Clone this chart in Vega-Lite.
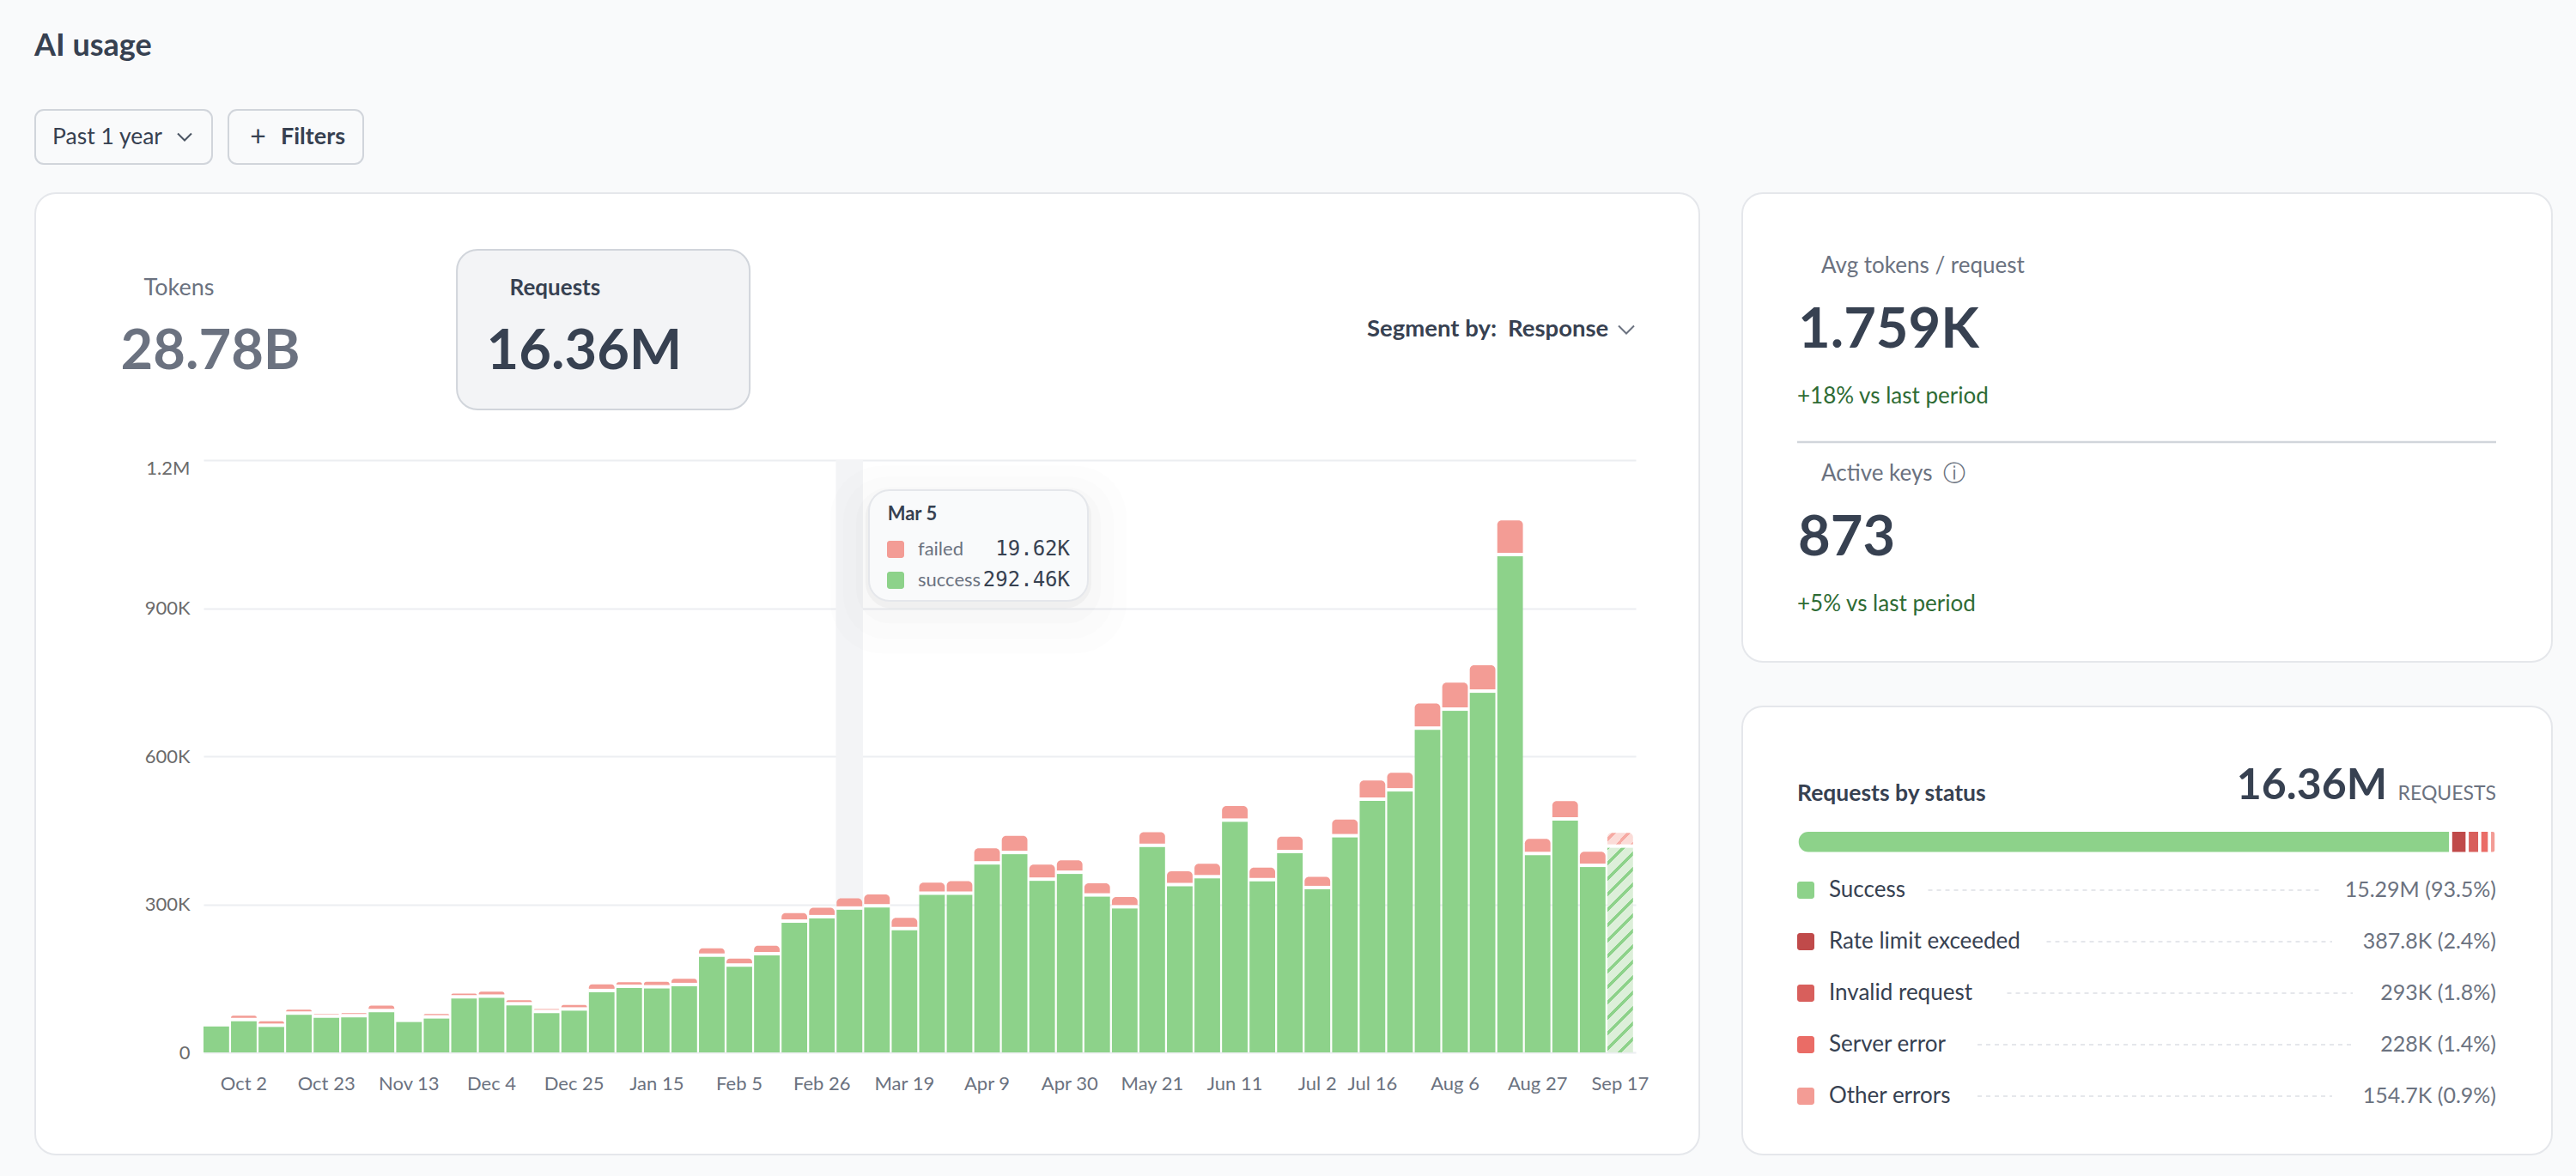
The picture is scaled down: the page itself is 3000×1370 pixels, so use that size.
{
  "$schema": "https://vega.github.io/schema/vega-lite/v6.json",
  "background": "#f9fafb",
  "padding": {"left": 40, "right": 35, "top": 36, "bottom": 35},
  "title": {"text": "AI usage", "anchor": "start", "font": "Lato", "fontSize": 36, "fontWeight": 700, "color": "#374151", "offset": 54},
  "config": {"font": "Lato", "view": {"stroke": null}},
  "datasets": {
    "weeks": [
      {"week": "Sep 25", "success": 56000, "failed": 1000},
      {"week": "Oct 2", "success": 66600, "failed": 7800},
      {"week": "Oct 9", "success": 55000, "failed": 8000},
      {"week": "Oct 16", "success": 79600, "failed": 7000},
      {"week": "Oct 23", "success": 73500, "failed": 4500},
      {"week": "Oct 30", "success": 74400, "failed": 5200},
      {"week": "Nov 6", "success": 84800, "failed": 10000},
      {"week": "Nov 13", "success": 65000, "failed": 1000},
      {"week": "Nov 20", "success": 72000, "failed": 6000},
      {"week": "Nov 27", "success": 112500, "failed": 6500},
      {"week": "Dec 4", "success": 114000, "failed": 9000},
      {"week": "Dec 11", "success": 98600, "failed": 7000},
      {"week": "Dec 18", "success": 83000, "failed": 5000},
      {"week": "Dec 25", "success": 88000, "failed": 8000},
      {"week": "Jan 1", "success": 125400, "failed": 12600},
      {"week": "Jan 8", "success": 134000, "failed": 8000},
      {"week": "Jan 15", "success": 133000, "failed": 10000},
      {"week": "Jan 22", "success": 137500, "failed": 11500},
      {"week": "Jan 29", "success": 197000, "failed": 14000},
      {"week": "Feb 5", "success": 177000, "failed": 13000},
      {"week": "Feb 12", "success": 200000, "failed": 16000},
      {"week": "Feb 19", "success": 266000, "failed": 16000},
      {"week": "Feb 26", "success": 275000, "failed": 18000},
      {"week": "Mar 5", "success": 292460, "failed": 19620},
      {"week": "Mar 12", "success": 297000, "failed": 23000},
      {"week": "Mar 19", "success": 251000, "failed": 21500},
      {"week": "Mar 26", "success": 322600, "failed": 21400},
      {"week": "Apr 2", "success": 322600, "failed": 24400},
      {"week": "Apr 9", "success": 384000, "failed": 29500},
      {"week": "Apr 16", "success": 405000, "failed": 33600},
      {"week": "Apr 23", "success": 351000, "failed": 29600},
      {"week": "Apr 30", "success": 365000, "failed": 24300},
      {"week": "May 7", "success": 319000, "failed": 23500},
      {"week": "May 14", "success": 295000, "failed": 20000},
      {"week": "May 21", "success": 419500, "failed": 26500},
      {"week": "May 28", "success": 340000, "failed": 27000},
      {"week": "Jun 4", "success": 356000, "failed": 26300},
      {"week": "Jun 11", "success": 470600, "failed": 28400},
      {"week": "Jun 18", "success": 350000, "failed": 24500},
      {"week": "Jun 25", "success": 407000, "failed": 30000},
      {"week": "Jul 2", "success": 334000, "failed": 21500},
      {"week": "Jul 9", "success": 439000, "failed": 32600},
      {"week": "Jul 16", "success": 513000, "failed": 38000},
      {"week": "Jul 23", "success": 532000, "failed": 34600},
      {"week": "Jul 30", "success": 657000, "failed": 50000},
      {"week": "Aug 6", "success": 695500, "failed": 53500},
      {"week": "Aug 13", "success": 732000, "failed": 52500},
      {"week": "Aug 20", "success": 1008600, "failed": 69400},
      {"week": "Aug 27", "success": 403000, "failed": 29500},
      {"week": "Sep 3", "success": 473000, "failed": 36000},
      {"week": "Sep 10", "success": 379000, "failed": 27500},
      {"week": "Sep 17", "success": 418000, "failed": 27000}
    ],
    "kpis": [
      {"metric": "Tokens", "figure": "28.78B", "selected": false},
      {"metric": "Requests", "figure": "16.36M", "selected": true}
    ],
    "tooltip": [
      {"day": "Mar 5", "status": "failed", "requests": "19.62K"},
      {"day": "Mar 5", "status": "success", "requests": "292.46K"}
    ],
    "stats": [
      {"metric": "Avg tokens / request", "figure": "1.759K", "change": "+18% vs last period"},
      {"metric": "Active keys", "figure": "873", "change": "+5% vs last period"}
    ],
    "statuses": [
      {"rank": 1, "status": "Success", "requests": 15290000, "amount": "15.29M (93.5%)"},
      {"rank": 2, "status": "Rate limit exceeded", "requests": 387800, "amount": "387.8K (2.4%)"},
      {"rank": 3, "status": "Invalid request", "requests": 293000, "amount": "293K (1.8%)"},
      {"rank": 4, "status": "Server error", "requests": 228000, "amount": "228K (1.4%)"},
      {"rank": 5, "status": "Other errors", "requests": 154700, "amount": "154.7K (0.9%)"}
    ]
  },
  "spacing": 32,
  "resolve": {"scale": {"color": "independent"}},
  "vconcat": [
    {
      "spacing": 17,
      "hconcat": [
        {
          "width": 206,
          "height": 63,
          "view": {"fill": "#f9fafb", "stroke": "#d1d5db", "strokeWidth": 2, "cornerRadius": 10},
          "data": {"values": [{"label": "Past 1 year"}]},
          "layer": [
            {
              "mark": {"type": "text", "fontSize": 26.5, "color": "#374151", "dx": -19},
              "encoding": {"text": {"field": "label"}}
            },
            {
              "mark": {"type": "point", "shape": "M-1,-0.5L0,0.5L1,-0.5", "size": 256, "color": "#4b5563", "strokeWidth": 2, "filled": false, "xOffset": 71, "opacity": 1}
            }
          ]
        },
        {
          "width": 157,
          "height": 63,
          "view": {"fill": "#f9fafb", "stroke": "#d1d5db", "strokeWidth": 2, "cornerRadius": 10},
          "data": {"values": [{"label": "Filters"}]},
          "layer": [
            {"mark": {"type": "text", "text": "+", "fontSize": 32, "color": "#374151", "dx": -44}},
            {
              "mark": {"type": "text", "fontSize": 27, "fontWeight": 700, "color": "#374151", "dx": 20},
              "encoding": {"text": {"field": "label"}}
            }
          ]
        }
      ]
    },
    {
      "spacing": 48,
      "resolve": {"scale": {"color": "independent"}},
      "hconcat": [
        {
          "width": 1938,
          "height": 1120,
          "view": {"fill": "#ffffff", "stroke": "#e5e7eb", "strokeWidth": 2, "cornerRadius": 24},
          "resolve": {"scale": {"x": "independent", "y": "independent"}},
          "layer": [
            {
              "data": {"name": "kpis"},
              "encoding": {
                "x": {"field": "metric", "type": "nominal", "axis": null, "scale": {"type": "point", "domain": ["Tokens", "Requests"], "range": [99.6, 525.6], "padding": 0}},
                "y": {"field": "metric", "type": "nominal", "axis": null, "scale": {"type": "point", "domain": ["Tokens", "Requests"], "range": [159, 159], "padding": 0}}
              },
              "layer": [
                {
                  "transform": [{"filter": "datum.selected"}],
                  "mark": {"type": "rect", "width": 341, "height": 186, "cornerRadius": 24, "fill": "#f3f4f6", "stroke": "#d1d5db", "strokeWidth": 2, "xOffset": 136}
                },
                {
                  "transform": [{"filter": "!datum.selected"}],
                  "mark": {"type": "text", "align": "left", "baseline": "middle", "dx": 27, "dy": -48, "fontSize": 27, "color": "#6b7280"},
                  "encoding": {"text": {"field": "metric"}}
                },
                {
                  "transform": [{"filter": "datum.selected"}],
                  "mark": {"type": "text", "align": "left", "baseline": "middle", "dx": 27, "dy": -48, "fontSize": 26, "fontWeight": 700, "color": "#374151"},
                  "encoding": {"text": {"field": "metric"}}
                },
                {
                  "mark": {"type": "text", "align": "left", "baseline": "middle", "dy": 26, "fontSize": 65, "fontWeight": 700},
                  "encoding": {
                    "text": {"field": "figure"},
                    "color": {"condition": {"test": "datum.selected", "value": "#374151"}, "value": "#6b7280"}
                  }
                }
              ]
            },
            {
              "data": {"values": [{"segment": "Response"}]},
              "encoding": {
                "x": {"field": "segment", "type": "nominal", "axis": null, "scale": {"type": "point", "range": [1715, 1715], "padding": 0}},
                "y": {"field": "segment", "type": "nominal", "axis": null, "scale": {"type": "point", "range": [159, 159], "padding": 0}}
              },
              "layer": [
                {"mark": {"type": "text", "text": "Segment by:", "align": "right", "baseline": "middle", "dx": -13, "fontSize": 27.5, "fontWeight": 700, "color": "#374151"}},
                {
                  "mark": {"type": "text", "align": "left", "baseline": "middle", "fontSize": 27.5, "fontWeight": 700, "color": "#374151"},
                  "encoding": {"text": {"field": "segment"}}
                },
                {"mark": {"type": "point", "shape": "M-1,-0.5L0,0.5L1,-0.5", "size": 324, "color": "#6b7280", "strokeWidth": 2, "filled": false, "xOffset": 138, "opacity": 1}}
              ]
            },
            {
              "data": {"name": "weeks"},
              "encoding": {
                "x": {
                  "field": "week",
                  "type": "nominal",
                  "sort": null,
                  "scale": {
                    "type": "band",
                    "domain": ["Sep 25", "Oct 2", "Oct 9", "Oct 16", "Oct 23", "Oct 30", "Nov 6", "Nov 13", "Nov 20", "Nov 27", "Dec 4", "Dec 11", "Dec 18", "Dec 25", "Jan 1", "Jan 8", "Jan 15", "Jan 22", "Jan 29", "Feb 5", "Feb 12", "Feb 19", "Feb 26", "Mar 5", "Mar 12", "Mar 19", "Mar 26", "Apr 2", "Apr 9", "Apr 16", "Apr 23", "Apr 30", "May 7", "May 14", "May 21", "May 28", "Jun 4", "Jun 11", "Jun 18", "Jun 25", "Jul 2", "Jul 9", "Jul 16", "Jul 23", "Jul 30", "Aug 6", "Aug 13", "Aug 20", "Aug 27", "Sep 3", "Sep 10", "Sep 17"],
                    "range": [196, 1864],
                    "paddingInner": 0.07,
                    "paddingOuter": 0.05,
                    "align": 0
                  },
                  "axis": {
                    "title": null,
                    "values": ["Oct 2", "Oct 23", "Nov 13", "Dec 4", "Dec 25", "Jan 15", "Feb 5", "Feb 26", "Mar 19", "Apr 9", "Apr 30", "May 21", "Jun 11", "Jul 2", "Jul 16", "Aug 6", "Aug 27", "Sep 17"],
                    "labelAngle": 0,
                    "labelOverlap": false,
                    "labelFontSize": 22,
                    "labelColor": "#6b7280",
                    "labelPadding": 26,
                    "domain": false,
                    "ticks": false,
                    "grid": false,
                    "offset": -119
                  }
                }
              },
              "layer": [
                {
                  "transform": [{"filter": "datum.week === 'Mar 5'"}],
                  "mark": {"type": "bar", "size": 31.5, "color": "#f3f4f6"},
                  "encoding": {
                    "y": {"datum": 0, "type": "quantitative", "title": null, "scale": {"domain": [0, 1200000], "range": [1001, 311]}},
                    "y2": {"datum": 1200000}
                  }
                },
                {
                  "transform": [
                    {"fold": ["success", "failed"], "as": ["status", "requests"]},
                    {"stack": "requests", "groupby": ["week"], "sort": [{"field": "status", "order": "descending"}], "as": ["y0", "y1"]}
                  ],
                  "encoding": {
                    "y": {"field": "y1", "type": "quantitative", "title": null, "scale": {"domain": [0, 1200000], "range": [1001, 311]}},
                    "y2": {"field": "y0"}
                  },
                  "layer": [
                    {
                      "transform": [{"filter": "datum.status === 'success' && datum.week !== 'Sep 17'"}],
                      "mark": {"type": "bar", "color": "#8dd28a"}
                    },
                    {
                      "transform": [{"filter": "datum.status === 'failed' && datum.week !== 'Sep 17'"}],
                      "mark": {"type": "bar", "color": "#f39c95", "cornerRadiusTopLeft": 5, "cornerRadiusTopRight": 5}
                    },
                    {
                      "transform": [{"filter": "datum.status === 'success' && datum.week === 'Sep 17'"}],
                      "mark": {
                        "type": "bar",
                        "fill": {
                          "gradient": "linear",
                          "x1": 0,
                          "y1": 0,
                          "x2": 0.1379,
                          "y2": 1.1073,
                          "stops": [
                            {"offset": 0, "color": "#8dd28a"}, {"offset": 0.0187, "color": "#8dd28a"}, {"offset": 0.0187, "color": "#dcefd9"}, {"offset": 0.0667, "color": "#dcefd9"},
                            {"offset": 0.0667, "color": "#8dd28a"}, {"offset": 0.0854, "color": "#8dd28a"}, {"offset": 0.0854, "color": "#dcefd9"}, {"offset": 0.1333, "color": "#dcefd9"},
                            {"offset": 0.1333, "color": "#8dd28a"}, {"offset": 0.152, "color": "#8dd28a"}, {"offset": 0.152, "color": "#dcefd9"}, {"offset": 0.2, "color": "#dcefd9"},
                            {"offset": 0.2, "color": "#8dd28a"}, {"offset": 0.2187, "color": "#8dd28a"}, {"offset": 0.2187, "color": "#dcefd9"}, {"offset": 0.2667, "color": "#dcefd9"},
                            {"offset": 0.2667, "color": "#8dd28a"}, {"offset": 0.2854, "color": "#8dd28a"}, {"offset": 0.2854, "color": "#dcefd9"}, {"offset": 0.3333, "color": "#dcefd9"},
                            {"offset": 0.3333, "color": "#8dd28a"}, {"offset": 0.352, "color": "#8dd28a"}, {"offset": 0.352, "color": "#dcefd9"}, {"offset": 0.4, "color": "#dcefd9"},
                            {"offset": 0.4, "color": "#8dd28a"}, {"offset": 0.4187, "color": "#8dd28a"}, {"offset": 0.4187, "color": "#dcefd9"}, {"offset": 0.4667, "color": "#dcefd9"},
                            {"offset": 0.4667, "color": "#8dd28a"}, {"offset": 0.4854, "color": "#8dd28a"}, {"offset": 0.4854, "color": "#dcefd9"}, {"offset": 0.5333, "color": "#dcefd9"},
                            {"offset": 0.5333, "color": "#8dd28a"}, {"offset": 0.552, "color": "#8dd28a"}, {"offset": 0.552, "color": "#dcefd9"}, {"offset": 0.6, "color": "#dcefd9"},
                            {"offset": 0.6, "color": "#8dd28a"}, {"offset": 0.6187, "color": "#8dd28a"}, {"offset": 0.6187, "color": "#dcefd9"}, {"offset": 0.6667, "color": "#dcefd9"},
                            {"offset": 0.6667, "color": "#8dd28a"}, {"offset": 0.6854, "color": "#8dd28a"}, {"offset": 0.6854, "color": "#dcefd9"}, {"offset": 0.7333, "color": "#dcefd9"},
                            {"offset": 0.7333, "color": "#8dd28a"}, {"offset": 0.752, "color": "#8dd28a"}, {"offset": 0.752, "color": "#dcefd9"}, {"offset": 0.8, "color": "#dcefd9"},
                            {"offset": 0.8, "color": "#8dd28a"}, {"offset": 0.8187, "color": "#8dd28a"}, {"offset": 0.8187, "color": "#dcefd9"}, {"offset": 0.8667, "color": "#dcefd9"},
                            {"offset": 0.8667, "color": "#8dd28a"}, {"offset": 0.8854, "color": "#8dd28a"}, {"offset": 0.8854, "color": "#dcefd9"}, {"offset": 0.9333, "color": "#dcefd9"},
                            {"offset": 0.9333, "color": "#8dd28a"}, {"offset": 0.952, "color": "#8dd28a"}, {"offset": 0.952, "color": "#dcefd9"}, {"offset": 1, "color": "#dcefd9"}
                          ]
                        }
                      }
                    },
                    {
                      "transform": [{"filter": "datum.status === 'failed' && datum.week === 'Sep 17'"}],
                      "mark": {
                        "type": "bar",
                        "cornerRadiusTopLeft": 5,
                        "cornerRadiusTopRight": 5,
                        "fill": {
                          "gradient": "linear",
                          "x1": 0,
                          "y1": 0,
                          "x2": 1.1968,
                          "y2": 0.6204,
                          "stops": [
                            {"offset": 0, "color": "#fbdcd8"}, {"offset": 0.12, "color": "#fbdcd8"}, {"offset": 0.12, "color": "#f6aaa3"}, {"offset": 0.23, "color": "#f6aaa3"},
                            {"offset": 0.23, "color": "#fbdcd8"}, {"offset": 0.505, "color": "#fbdcd8"}, {"offset": 0.505, "color": "#f6aaa3"}, {"offset": 0.615, "color": "#f6aaa3"},
                            {"offset": 0.615, "color": "#fbdcd8"}, {"offset": 0.89, "color": "#fbdcd8"}, {"offset": 0.89, "color": "#f6aaa3"}, {"offset": 1, "color": "#f6aaa3"}
                          ]
                        }
                      }
                    }
                  ]
                },
                {
                  "mark": {"type": "tick", "orient": "horizontal", "color": "#ffffff", "thickness": 4, "size": 31, "opacity": 1},
                  "encoding": {
                    "y": {
                      "field": "success",
                      "type": "quantitative",
                      "scale": {"domain": [0, 1200000], "range": [1001, 311]},
                      "axis": {
                        "title": null,
                        "values": [0, 300000, 600000, 900000, 1200000],
                        "labelExpr": "replace(format(datum.value, '~s'), 'k', 'K')",
                        "labelFontSize": 22,
                        "labelColor": "#6b6b6b",
                        "labelPadding": 16,
                        "labelOffset": {"condition": {"test": "datum.value === 1200000", "value": 9}, "value": 0},
                        "domain": false,
                        "ticks": false,
                        "grid": true,
                        "gridColor": "#eceef1",
                        "gridWidth": 2,
                        "offset": -196
                      }
                    }
                  }
                }
              ]
            },
            {
              "data": {"name": "tooltip"},
              "encoding": {
                "x": {"field": "day", "type": "nominal", "axis": null, "scale": {"type": "point", "range": [1002, 1002], "padding": 0}},
                "y": {"field": "status", "type": "nominal", "axis": null, "scale": {"type": "point", "domain": ["failed", "success"], "range": [415, 451], "padding": 0}}
              },
              "layer": [
                {
                  "transform": [{"filter": "datum.status === 'failed'"}],
                  "layer": [
                    {"mark": {"type": "rect", "width": 345, "height": 219, "cornerRadius": 60, "fill": "#000000", "opacity": 0.006, "xOffset": 96.5, "yOffset": 12}},
                    {"mark": {"type": "rect", "width": 315, "height": 189, "cornerRadius": 50, "fill": "#000000", "opacity": 0.008, "xOffset": 96.5, "yOffset": 10}},
                    {"mark": {"type": "rect", "width": 285, "height": 159, "cornerRadius": 40, "fill": "#000000", "opacity": 0.012, "xOffset": 96.5, "yOffset": 7}},
                    {"mark": {"type": "rect", "width": 263, "height": 137, "cornerRadius": 30, "fill": "#000000", "opacity": 0.03, "xOffset": 96.5, "yOffset": 0}},
                    {"mark": {"type": "rect", "width": 255, "height": 129, "cornerRadius": 24, "fill": "#f9fafb", "stroke": "#e5e7eb", "strokeWidth": 2, "xOffset": 96.5, "yOffset": -4.5}},
                    {
                      "mark": {"type": "text", "align": "left", "baseline": "middle", "dx": -9.3, "dy": -41, "fontSize": 22, "fontWeight": 700, "color": "#374151"},
                      "encoding": {"text": {"field": "day"}}
                    }
                  ]
                },
                {
                  "mark": {"type": "rect", "width": 20, "height": 20, "cornerRadius": 3},
                  "encoding": {
                    "color": {"field": "status", "type": "nominal", "legend": null, "scale": {"domain": ["failed", "success"], "range": ["#f39c95", "#8dd28a"]}}
                  }
                },
                {
                  "mark": {"type": "text", "align": "left", "baseline": "middle", "dx": 26, "fontSize": 22, "color": "#6b7280"},
                  "encoding": {"text": {"field": "status"}}
                },
                {
                  "mark": {"type": "text", "align": "right", "baseline": "middle", "dx": 203, "font": "DejaVu Sans Mono", "fontSize": 24, "color": "#374151"},
                  "encoding": {"text": {"field": "requests"}}
                }
              ]
            }
          ]
        },
        {
          "spacing": 50,
          "resolve": {"scale": {"color": "independent"}},
          "vconcat": [
            {
              "width": 943,
              "height": 546,
              "view": {"fill": "#ffffff", "stroke": "#e5e7eb", "strokeWidth": 2, "cornerRadius": 24},
              "resolve": {"scale": {"x": "independent", "y": "independent"}},
              "layer": [
                {
                  "data": {"name": "stats"},
                  "encoding": {
                    "x": {"field": "metric", "type": "nominal", "axis": null, "scale": {"type": "point", "range": [64, 64], "padding": 0}},
                    "y": {"field": "metric", "type": "nominal", "axis": null, "sort": null, "scale": {"type": "point", "range": [159.5, 401.5], "padding": 0}}
                  },
                  "layer": [
                    {
                      "mark": {"type": "text", "align": "left", "baseline": "middle", "dx": 28, "dy": -74.5, "fontSize": 26, "color": "#6b7280"},
                      "encoding": {"text": {"field": "metric"}}
                    },
                    {
                      "mark": {"type": "text", "align": "left", "baseline": "middle", "dx": 1, "fontSize": 65, "fontWeight": 700, "color": "#374151"},
                      "encoding": {"text": {"field": "figure"}}
                    },
                    {
                      "mark": {"type": "text", "align": "left", "baseline": "middle", "dy": 77.5, "fontSize": 26, "color": "#2e6b34"},
                      "encoding": {"text": {"field": "change"}}
                    },
                    {
                      "transform": [{"filter": "datum.metric === 'Active keys'"}],
                      "mark": {"type": "text", "text": "ⓘ", "font": "DejaVu Sans", "align": "center", "baseline": "middle", "dx": 183, "dy": -74.5, "fontSize": 26, "color": "#6b7280"}
                    }
                  ]
                },
                {
                  "data": {"name": "stats"},
                  "transform": [{"filter": "datum.metric === 'Active keys'"}],
                  "mark": {"type": "rule", "color": "#d1d5db", "strokeWidth": 2.5},
                  "encoding": {
                    "x": {"datum": 0, "type": "quantitative", "axis": null, "scale": {"domain": [0, 1], "range": [64, 878]}},
                    "x2": {"datum": 1},
                    "y": {"field": "metric", "type": "nominal", "axis": null, "scale": {"type": "point", "range": [290, 290], "padding": 0}}
                  }
                }
              ]
            },
            {
              "width": 943,
              "height": 522,
              "view": {"fill": "#ffffff", "stroke": "#e5e7eb", "strokeWidth": 2, "cornerRadius": 24},
              "resolve": {"scale": {"x": "independent", "y": "independent"}},
              "layer": [
                {
                  "data": {"values": [{"heading": "Requests by status", "total": "16.36M", "unit": "REQUESTS"}]},
                  "encoding": {
                    "y": {"field": "heading", "type": "nominal", "axis": null, "scale": {"type": "point", "range": [102, 102], "padding": 0}}
                  },
                  "layer": [
                    {
                      "mark": {"type": "text", "align": "left", "baseline": "middle", "fontSize": 26.5, "fontWeight": 700, "color": "#374151"},
                      "encoding": {
                        "x": {"datum": 0, "type": "quantitative", "axis": null, "scale": {"domain": [0, 814], "range": [64, 878]}},
                        "text": {"field": "heading"}
                      }
                    },
                    {
                      "mark": {"type": "text", "align": "right", "baseline": "middle", "dx": -127, "dy": -9, "fontSize": 50, "fontWeight": 700, "color": "#374151"},
                      "encoding": {
                        "x": {"datum": 814, "type": "quantitative", "axis": null, "scale": {"domain": [0, 814], "range": [64, 878]}},
                        "text": {"field": "total"}
                      }
                    },
                    {
                      "mark": {"type": "text", "align": "right", "baseline": "middle", "fontSize": 23, "color": "#6b7280"},
                      "encoding": {
                        "x": {"datum": 814, "type": "quantitative", "axis": null, "scale": {"domain": [0, 814], "range": [64, 878]}},
                        "text": {"field": "unit"}
                      }
                    }
                  ]
                },
                {
                  "data": {"name": "statuses"},
                  "transform": [
                    {"stack": "requests", "groupby": [], "sort": [{"field": "rank", "order": "ascending"}], "as": ["x0", "x1"]}
                  ],
                  "encoding": {
                    "x": {"field": "x0", "type": "quantitative", "axis": null, "scale": {"domain": [0, 16353500], "range": [64, 878]}},
                    "x2": {"field": "x1"},
                    "y": {"datum": "all", "type": "nominal", "axis": null, "scale": {"type": "point", "domain": ["all"], "range": [157.75, 157.75], "padding": 0}},
                    "color": {
                      "field": "status",
                      "type": "nominal",
                      "legend": null,
                      "sort": null,
                      "scale": {
                        "domain": ["Success", "Rate limit exceeded", "Invalid request", "Server error", "Other errors"],
                        "range": ["#8dd28a", "#c04a4a", "#d85f5c", "#ea6c66", "#f39c95"]
                      }
                    }
                  },
                  "layer": [
                    {
                      "transform": [{"filter": "datum.rank === 1"}],
                      "mark": {"type": "rect", "height": 27, "stroke": "#ffffff", "strokeWidth": 3.5, "cornerRadiusTopLeft": 13, "cornerRadiusBottomLeft": 13}
                    },
                    {
                      "transform": [{"filter": "datum.rank > 1 && datum.rank < 5"}],
                      "mark": {"type": "rect", "height": 27, "stroke": "#ffffff", "strokeWidth": 3.5}
                    },
                    {
                      "transform": [{"filter": "datum.rank === 5"}],
                      "mark": {"type": "rect", "height": 27, "stroke": "#ffffff", "strokeWidth": 3.5, "cornerRadiusTopRight": 13, "cornerRadiusBottomRight": 13}
                    }
                  ]
                },
                {
                  "data": {"name": "statuses"},
                  "transform": [
                    {"calculate": "length(datum.status) * 11.5 + 72", "as": "leader_start"},
                    {"calculate": "814 - length(datum.amount) * 12 - 35", "as": "leader_end"}
                  ],
                  "encoding": {
                    "y": {"field": "status", "type": "nominal", "axis": null, "sort": {"field": "rank"}, "scale": {"type": "point", "range": [214, 454], "padding": 0}}
                  },
                  "layer": [
                    {
                      "mark": {"type": "rect", "width": 20, "height": 20, "cornerRadius": 3, "xOffset": 10},
                      "encoding": {
                        "x": {"datum": 0, "type": "quantitative", "axis": null, "scale": {"domain": [0, 814], "range": [64, 878]}},
                        "color": {"field": "status", "type": "nominal", "legend": null, "sort": null}
                      }
                    },
                    {
                      "mark": {"type": "text", "align": "left", "baseline": "middle", "dx": 37, "fontSize": 26, "color": "#374151"},
                      "encoding": {
                        "x": {"datum": 0, "type": "quantitative", "axis": null, "scale": {"domain": [0, 814], "range": [64, 878]}},
                        "text": {"field": "status"}
                      }
                    },
                    {
                      "mark": {"type": "rule", "color": "#e5e7eb", "strokeWidth": 2, "strokeDash": [5, 5]},
                      "encoding": {
                        "x": {"field": "leader_start", "type": "quantitative", "axis": null, "scale": {"domain": [0, 814], "range": [64, 878]}},
                        "x2": {"field": "leader_end"}
                      }
                    },
                    {
                      "mark": {"type": "text", "align": "right", "baseline": "middle", "fontSize": 25, "color": "#6b7280"},
                      "encoding": {
                        "x": {"datum": 814, "type": "quantitative", "axis": null, "scale": {"domain": [0, 814], "range": [64, 878]}},
                        "text": {"field": "amount"}
                      }
                    }
                  ]
                }
              ]
            }
          ]
        }
      ]
    }
  ]
}
